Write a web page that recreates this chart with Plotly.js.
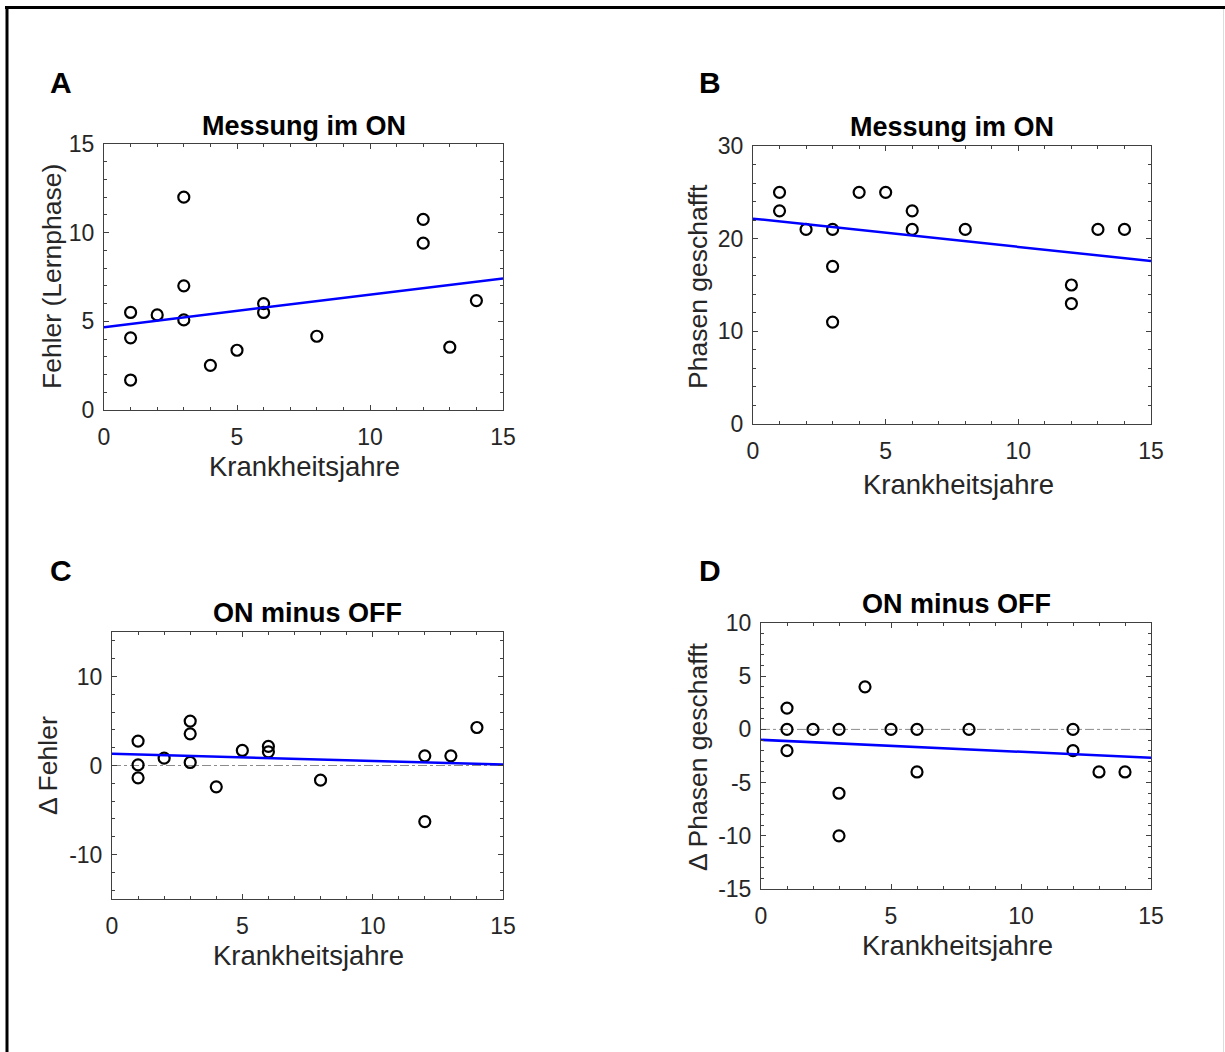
<!DOCTYPE html>
<html>
<head>
<meta charset="utf-8">
<script src="https://cdn.plot.ly/plotly-3.0.1.min.js"></script>
<style>html,body{margin:0;padding:0;background:#fff;}#chart{width:1225px;height:1052px;}</style>
</head>
<body>
<div id="chart"></div>
<script>
// ---- data ----
const yearsA = [1,1,1,2,3,3,3,4,5,6,6,8,12,12,13,14];
const fehlerON = [5.5,4.07,1.69,5.36,12.0,7.0,5.08,2.52,3.37,6.0,5.5,4.16,10.75,9.41,3.54,6.17];

const yearsB = [1,1,2,3,3,3,4,5,6,6,8,12,12,13,14];
const phasenON = [25,23,21,21,17,11,25,25,23,21,21,15,13,21,21];

const yearsC = [1,1,1,2,3,3,3,4,5,6,6,8,12,12,13,14];
const deltaFehler = [2.74,0.07,-1.39,0.82,4.99,3.56,0.34,-2.40,1.69,2.14,1.54,-1.65,1.09,-6.30,1.09,4.27];

const yearsD = [1,1,1,2,3,3,3,4,5,6,6,8,12,12,13,14];
const deltaPhasen = [2,0,-2,0,0,-6,-10,4,0,0,-4,0,0,-2,-4,-4];

const fitX = [0,15];
const fitA = [4.67,7.42];
const fitB = [22.16,17.59];
const fitC = [1.31,0.11];
const fitD = [-0.98,-2.67];
const refX = [0,15];
const refY = [0,0];

// tick labels
const xTickVals = [0,5,10,15];
const xTickText = ['0','5','10','15'];
const yTickValsA = [0,5,10,15];
const yTickTextA = ['0','5','10','15'];
const yTickValsB = [0,10,20,30];
const yTickTextB = ['0','10','20','30'];
const yTickValsC = [-10,0,10];
const yTickTextC = ['-10','0','10'];
const yTickValsD = [-15,-10,-5,0,5,10];
const yTickTextD = ['-15','-10','-5','0','5','10'];

const panelLabels = ['A','B','C','D'];
const panelTitles = ['Messung im ON','Messung im ON','ON minus OFF','ON minus OFF'];
const yTitles = ['Fehler (Lernphase)','Phasen geschafft','\u0394 Fehler','\u0394 Phasen geschafft'];
const xTitle = 'Krankheitsjahre';

// ---- layout helpers ----
const W = 1225, H = 1052;
const FONT = 'Liberation Sans, Arial, Helvetica, sans-serif';
const TXT = '#262626';
// plot boxes in pixels [left, right, top, bottom]
const boxes = [
  [104, 503, 144, 410],
  [753, 1151, 146, 424],
  [112, 503, 632, 899],
  [761, 1151, 623, 889]
];
const yRanges = [[0,15],[0,30],[-15,15],[-15,10]];
const yTickVals = [yTickValsA,yTickValsB,yTickValsC,yTickValsD];
const yTickText = [yTickTextA,yTickTextB,yTickTextC,yTickTextD];
const yMinor = [1,2,2,1];

function px2x(p){return p/W;}
function px2y(p){return 1-p/H;}

const marker = {symbol:'circle-open', size:11, color:'#000', line:{width:2.2, color:'#000'}};
const traces = [];
const series = [[yearsA,fehlerON,fitA],[yearsB,phasenON,fitB],[yearsC,deltaFehler,fitC],[yearsD,deltaPhasen,fitD]];
series.forEach((s,i)=>{
  const xa = i===0?'x':'x'+(i+1), ya = i===0?'y':'y'+(i+1);
  if(i>=2){
    traces.push({x:refX,y:refY,xaxis:xa,yaxis:ya,mode:'lines',line:{color:'#8c8c8c',width:1,dash:'dashdot'},hoverinfo:'skip',showlegend:false});
  }
  traces.push({x:s[0],y:s[1],xaxis:xa,yaxis:ya,mode:'markers',marker:marker,showlegend:false});
  traces.push({x:fitX,y:s[2],xaxis:xa,yaxis:ya,mode:'lines',line:{color:'#0000ff',width:2.5},showlegend:false});
});

const layout = {
  width:W, height:H,
  margin:{l:0,r:0,t:0,b:0},
  paper_bgcolor:'#fff', plot_bgcolor:'#fff',
  showlegend:false,
  font:{family:FONT,color:TXT},
  annotations:[], shapes:[]
};

boxes.forEach((b,i)=>{
  const sfx = i===0?'':String(i+1);
  const xa = {
    domain:[px2x(b[0]),px2x(b[1])], range:[0,15], anchor:'y'+sfx,
    tickmode:'array', tickvals:xTickVals, ticktext:xTickText,
    ticks:'inside', ticklen:5, tickwidth:1, tickcolor:'#404040',
    minor:{tickmode:'linear', ticks:'inside', dtick:1, tick0:0, ticklen:3, tickcolor:'#404040', showgrid:false},
    showline:true, linecolor:'#404040', linewidth:1, mirror:'ticks',
    showgrid:false, zeroline:false, fixedrange:true,
    tickfont:{family:FONT,size:23,color:TXT}, ticklabelstandoff:6
  };
  const ya = {
    domain:[px2y(b[3]),px2y(b[2])], range:yRanges[i], anchor:'x'+sfx,
    tickmode:'array', tickvals:yTickVals[i], ticktext:yTickText[i],
    ticks:'inside', ticklen:5, tickwidth:1, tickcolor:'#404040',
    minor:{tickmode:'linear', ticks:'inside', dtick:yMinor[i], tick0:0, ticklen:3, tickcolor:'#404040', showgrid:false},
    showline:true, linecolor:'#404040', linewidth:1, mirror:'ticks',
    showgrid:false, zeroline:false, fixedrange:true,
    tickfont:{family:FONT,size:23,color:TXT}, ticklabelstandoff:4
  };
  layout['xaxis'+sfx] = xa;
  layout['yaxis'+sfx] = ya;
});

// panel labels
const labelPos = [[61,82],[710,82],[61,570],[710,570]];
panelLabels.forEach((t,i)=>{
  layout.annotations.push({text:'<b>'+t+'</b>', xref:'paper', yref:'paper', x:px2x(labelPos[i][0]), y:px2y(labelPos[i][1]),
    xanchor:'center', yanchor:'middle', showarrow:false, font:{family:FONT,size:30,color:'#000'}});
});
// titles
const titlePos = [[304,126],[952,127],[307,613],[956,604]];
panelTitles.forEach((t,i)=>{
  layout.annotations.push({text:'<b>'+t+'</b>', xref:'paper', yref:'paper', x:px2x(titlePos[i][0]), y:px2y(titlePos[i][1]),
    xanchor:'center', yanchor:'middle', showarrow:false, font:{family:FONT,size:27,color:'#000'}});
});
// x titles
const xTitlePos = [[304,466],[958,484],[308,955],[957,945]];
xTitlePos.forEach((p,i)=>{
  layout.annotations.push({text:xTitle, xref:'paper', yref:'paper', x:px2x(p[0]), y:px2y(p[1]),
    xanchor:'center', yanchor:'middle', showarrow:false, font:{family:FONT,size:27.5,color:TXT}});
});
// y titles
const yTitlePos = [[52,277],[698,286],[48,766],[698,756]];
yTitles.forEach((t,i)=>{
  layout.annotations.push({text:t, xref:'paper', yref:'paper', x:px2x(yTitlePos[i][0]), y:px2y(yTitlePos[i][1]),
    xanchor:'center', yanchor:'middle', textangle:-90, showarrow:false, font:{family:FONT,size:26.5,color:TXT}});
});

// figure frame
layout.shapes.push({type:'line', xref:'paper', yref:'paper', x0:px2x(5), x1:1, y0:px2y(7.5), y1:px2y(7.5), line:{color:'#000',width:3}});
layout.shapes.push({type:'line', xref:'paper', yref:'paper', x0:px2x(7), x1:px2x(7), y0:px2y(6), y1:0, line:{color:'#000',width:3}});
layout.shapes.push({type:'line', xref:'paper', yref:'paper', x0:px2x(1223.5), x1:px2x(1223.5), y0:px2y(9), y1:0, line:{color:'#dddddd',width:1}});

Plotly.newPlot('chart', traces, layout, {staticPlot:true, displayModeBar:false});
</script>
</body>
</html>
